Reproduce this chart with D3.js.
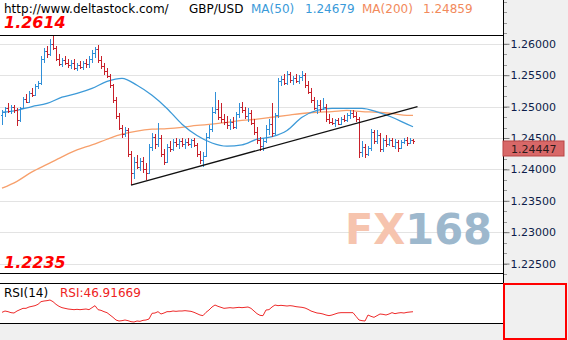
<!DOCTYPE html>
<html><head><meta charset="utf-8">
<script src="https://cdn.jsdelivr.net/npm/d3@7"></script>
<style>body{margin:0;background:#fff}svg{display:block}</style>
</head><body>
<svg id="c" width="568" height="340"></svg>
<script>
// ---------- data ----------
const siteText = "http://www.deltastock.com/";
const symbol = "GBP/USD";
const ma50Label = "MA(50)", ma50Last = "1.24679";
const ma200Label = "MA(200)", ma200Last = "1.24859";
const rangeHigh = 1.2614, rangeLow = 1.2235;
const lastPrice = 1.24447;
const rsiLabel = "RSI(14)", rsiText = "RSI:46.91669";
const axisTicks = [1.225, 1.23, 1.235, 1.24, 1.245, 1.25, 1.255, 1.26];
const watermark = ["FX", "168"];

const opens = [1.2486,1.2491,1.2497,1.2493,1.2499,1.2495,1.2478,1.2498,1.2512,1.2508,1.2522,1.2519,1.2533,1.2537,1.2575,1.2588,1.2583,1.2600,1.2594,1.2576,
1.2568,1.2574,1.2570,1.2566,1.2570,1.2562,1.2566,1.2563,1.2570,1.2568,1.2575,1.2586,1.2592,1.2574,1.2564,1.2556,1.2549,1.2534,1.2510,1.2485,
1.2466,1.2456,1.2463,1.2425,1.2395,1.2412,1.2404,1.2414,1.2400,1.2395,1.2435,1.2452,1.2440,1.2450,1.2425,1.2412,1.2436,1.2432,1.2444,1.2440,
1.2445,1.2440,1.2444,1.2441,1.2446,1.2439,1.2425,1.2415,1.2422,1.2452,1.2465,1.2492,1.2496,1.2484,1.2480,1.2475,1.2470,1.2476,1.2468,1.2488,
1.2500,1.2494,1.2485,1.2490,1.2474,1.2460,1.2446,1.2438,1.2445,1.2465,1.2472,1.2458,1.2486,1.2540,1.2544,1.2538,1.2552,1.2542,1.2545,1.2540,
1.2547,1.2550,1.2534,1.2524,1.2510,1.2498,1.2503,1.2496,1.2500,1.2480,1.2476,1.2474,1.2478,1.2473,1.2481,1.2479,1.2486,1.2490,1.2485,1.2480,
1.2428,1.2436,1.2424,1.2434,1.2460,1.2445,1.2455,1.2432,1.2446,1.2440,1.2447,1.2438,1.2444,1.2434,1.2443,1.2447,1.2442,1.2446];
const highs = [1.2494,1.2500,1.2505,1.2502,1.2503,1.2498,1.2500,1.2515,1.2520,1.2525,1.2530,1.2536,1.2540,1.2580,1.2593,1.2597,1.2608,1.2613,1.2597,1.2584,
1.2578,1.2580,1.2576,1.2574,1.2575,1.2570,1.2572,1.2573,1.2576,1.2580,1.2590,1.2595,1.2598,1.2580,1.2570,1.2562,1.2552,1.2536,1.2515,1.2490,
1.2470,1.2468,1.2466,1.2430,1.2420,1.2423,1.2418,1.2420,1.2410,1.2440,1.2458,1.2456,1.2474,1.2455,1.2432,1.2440,1.2445,1.2448,1.2450,1.2448,
1.2450,1.2448,1.2450,1.2449,1.2450,1.2442,1.2430,1.2428,1.2458,1.2470,1.2500,1.2523,1.2510,1.2505,1.2488,1.2485,1.2480,1.2483,1.2492,1.2505,
1.2507,1.2500,1.2498,1.2495,1.2480,1.2468,1.2452,1.2450,1.2470,1.2480,1.2505,1.2490,1.2545,1.2548,1.2552,1.2556,1.2555,1.2548,1.2552,1.2550,
1.2556,1.2553,1.2540,1.2530,1.2515,1.2510,1.2510,1.2513,1.2504,1.2488,1.2482,1.2480,1.2482,1.2484,1.2486,1.2490,1.2494,1.2494,1.2492,1.2483,
1.2445,1.2440,1.2438,1.2465,1.2462,1.2462,1.2458,1.2450,1.2455,1.2450,1.2450,1.2448,1.2447,1.2446,1.2450,1.2451,1.2450,1.2448];
const lows = [1.2470,1.2483,1.2490,1.2488,1.2490,1.2469,1.2476,1.2496,1.2505,1.2505,1.2515,1.2517,1.2528,1.2535,1.2570,1.2578,1.2580,1.2590,1.2572,1.2565,
1.2563,1.2566,1.2562,1.2560,1.2558,1.2556,1.2560,1.2558,1.2562,1.2562,1.2570,1.2578,1.2570,1.2560,1.2550,1.2545,1.2530,1.2505,1.2480,1.2462,
1.2450,1.2452,1.2420,1.2375,1.2385,1.2400,1.2398,1.2395,1.2383,1.2392,1.2430,1.2432,1.2436,1.2420,1.2407,1.2410,1.2428,1.2430,1.2436,1.2432,
1.2436,1.2433,1.2438,1.2434,1.2436,1.2420,1.2408,1.2404,1.2420,1.2448,1.2460,1.2488,1.2478,1.2474,1.2470,1.2465,1.2462,1.2465,1.2465,1.2482,
1.2490,1.2480,1.2475,1.2470,1.2455,1.2440,1.2430,1.2430,1.2442,1.2455,1.2452,1.2455,1.2482,1.2532,1.2535,1.2534,1.2538,1.2535,1.2538,1.2536,
1.2540,1.2530,1.2520,1.2505,1.2494,1.2488,1.2492,1.2494,1.2475,1.2472,1.2470,1.2468,1.2470,1.2471,1.2475,1.2476,1.2480,1.2482,1.2476,1.2418,
1.2420,1.2418,1.2422,1.2430,1.2440,1.2440,1.2428,1.2428,1.2436,1.2438,1.2435,1.2432,1.2428,1.2432,1.2440,1.2438,1.2440,1.2441];
const closes = [1.2491,1.2497,1.2493,1.2499,1.2495,1.2478,1.2498,1.2512,1.2508,1.2522,1.2519,1.2533,1.2537,1.2575,1.2588,1.2583,1.2600,1.2594,1.2576,1.2568,
1.2574,1.2570,1.2566,1.2570,1.2562,1.2566,1.2563,1.2570,1.2568,1.2575,1.2586,1.2592,1.2574,1.2564,1.2556,1.2549,1.2534,1.2510,1.2485,1.2466,
1.2456,1.2463,1.2425,1.2395,1.2412,1.2404,1.2414,1.2400,1.2395,1.2435,1.2452,1.2440,1.2450,1.2425,1.2412,1.2436,1.2432,1.2444,1.2440,1.2445,
1.2440,1.2444,1.2441,1.2446,1.2439,1.2425,1.2415,1.2422,1.2452,1.2465,1.2492,1.2496,1.2484,1.2480,1.2475,1.2470,1.2476,1.2468,1.2488,1.2500,
1.2494,1.2485,1.2490,1.2474,1.2460,1.2446,1.2438,1.2445,1.2465,1.2472,1.2458,1.2486,1.2540,1.2544,1.2538,1.2552,1.2542,1.2545,1.2540,1.2547,
1.2550,1.2534,1.2524,1.2510,1.2498,1.2503,1.2496,1.2500,1.2480,1.2476,1.2474,1.2478,1.2473,1.2481,1.2479,1.2486,1.2490,1.2485,1.2480,1.2428,
1.2436,1.2424,1.2434,1.2460,1.2445,1.2455,1.2432,1.2446,1.2440,1.2447,1.2438,1.2444,1.2434,1.2443,1.2447,1.2442,1.2446,1.24447];

const maIdx = [0,5,10,15,20,25,30,35,40,45,50,55,60,65,70,75,80,85,90,95,100,105,110,115,120,125,130,135,137];
const ma50 = [1.2491,1.2494,1.2500,1.2505,1.2515,1.2521,1.2529,1.2540,1.2545,1.2534,1.2518,1.2497,1.2472,1.2454,1.2442,1.2437,1.2439,1.2448,1.2452,1.2462,1.2483,1.2494,1.2497,1.2497,1.2497,1.24915,1.2483,1.2472,1.24679];
const ma200 = [1.2370,1.2381,1.2396,1.2408,1.2420,1.2431,1.2439,1.2448,1.2456,1.2461,1.2464,1.2465,1.2467,1.2470,1.2472,1.2475,1.2478,1.2480,1.2483,1.2486,1.2489,1.2491,1.2492,1.2494,1.2492,1.2491,1.2489,1.2486,1.24859];

const rsi = [46,48,47,45.5,45,48,50,52,52,54,55,56,58,62,63,63.5,64.5,62,58,55,
53,52,51,50.5,50,50.5,50,50.5,51,50,53,56,50,49,47,45.5,42,38.5,34.5,33,
33.5,34.5,33.5,32,31.5,33,32.5,34,34.5,36,44.5,45,47,43.5,45,47,47,48,47.5,48,
48,48.5,48,47.5,46,44,42,41,46,49.5,54,57,55,53.5,52,52.5,53,52.5,53,53.5,
53,53.5,54,52,48,44,41.5,41,49.5,50,54,57,56,56.5,56,55.5,56,55.5,54.5,54,
53.5,52.5,50.5,48,46.5,45,44.5,43.5,42,41,42,43.5,45,45.5,45.5,45.5,45.5,45.5,40,34.5,
33.5,33,42,40,38.5,41,43.5,43,42,43.5,45.5,44,45,45.5,45,46,46.5,46.91669];

const trendIdx = [43, 138.5];
const trendPrice = [1.2375, 1.2500];

// ---------- drawing ----------
const svg = d3.select("#c");
const W = 568, H = 340, plotR = 503;
const mainTop = 35, mainBot = 273, rsiTop = 283, rsiBot = 323;

const x = d3.scaleLinear().domain([0, closes.length - 1]).range([2, 413]);
const y = d3.scaleLinear().domain([rangeLow, rangeHigh]).range([mainBot, mainTop]);
const yr = d3.scaleLinear().domain([30, 90]).range([rsiBot, rsiTop]);

svg.append("rect").attr("width", W).attr("height", H).attr("fill", "#fff");
svg.append("rect").attr("x", plotR).attr("y", 0).attr("width", W - plotR).attr("height", H).attr("fill", "#f0f0f0");
svg.append("rect").attr("x", 0).attr("y", rsiBot).attr("width", plotR).attr("height", H - rsiBot).attr("fill", "#f0f0f0");

// gridlines
svg.append("g").selectAll("line").data(axisTicks).join("line")
  .attr("x1", 0).attr("x2", plotR)
  .attr("y1", d => Math.round(y(d)) + 0.5).attr("y2", d => Math.round(y(d)) + 0.5)
  .attr("stroke", "#e3e3e3").attr("stroke-width", 1);

// watermark
const wm = svg.append("text").attr("x", 345).attr("y", 244)
  .attr("font-family", "DejaVu Sans").attr("font-weight", "bold").attr("font-size", 42)
  .attr("textLength", 147).attr("lengthAdjust", "spacingAndGlyphs");
wm.append("tspan").attr("fill", "#f6c4ae").text(watermark[0]);
wm.append("tspan").attr("fill", "#9db8cd").text(watermark[1]);

// MA lines
const maLine = d3.line().x((d, i) => x(maIdx[i])).y(d => y(d)).curve(d3.curveMonotoneX);
svg.append("path").attr("d", maLine(ma200)).attr("fill", "none").attr("stroke", "#f7a06c").attr("stroke-width", 1.3);
svg.append("path").attr("d", maLine(ma50)).attr("fill", "none").attr("stroke", "#3d9ad8").attr("stroke-width", 1.3);

// OHLC bars
const bars = svg.append("g").attr("shape-rendering", "crispEdges");
closes.forEach((c, i) => {
  const o = opens[i], h = highs[i], l = lows[i];
  const col = c >= o ? "#2f8fd8" : "#c8202a";
  const xi = Math.round(x(i));
  const yh = Math.round(y(h)), yl = Math.round(y(l));
  bars.append("rect").attr("x", xi).attr("y", yh).attr("width", 1).attr("height", Math.max(1, yl - yh)).attr("fill", col);
  bars.append("rect").attr("x", xi - 1).attr("y", Math.round(y(o))).attr("width", 1).attr("height", 1).attr("fill", col);
  bars.append("rect").attr("x", xi + 1).attr("y", Math.round(y(c))).attr("width", 1).attr("height", 1).attr("fill", col);
});

// trend line
svg.append("line")
  .attr("x1", x(trendIdx[0])).attr("y1", y(trendPrice[0]))
  .attr("x2", x(trendIdx[1])).attr("y2", y(trendPrice[1]))
  .attr("stroke", "#111").attr("stroke-width", 1.4);

// frame lines
[mainTop, mainBot, rsiTop, rsiBot].forEach(v => {
  svg.append("line").attr("x1", 0).attr("x2", plotR).attr("y1", v + 0.5).attr("y2", v + 0.5)
    .attr("stroke", "#000").attr("stroke-width", 1);
});

// RSI line
const rsiLine = d3.line().x((d, i) => x(i)).y(d => yr(d));
svg.append("path").attr("d", rsiLine(rsi)).attr("fill", "none").attr("stroke", "#ee2a2a").attr("stroke-width", 1);

// right axis
const minor = d3.range(-6, 30).map(k => axisTicks[0] + k * 0.005 / 3).filter(v => y(v) > 0 && y(v) < 277);
svg.append("g").selectAll("line").data(minor).join("line")
  .attr("x1", plotR).attr("x2", plotR + 4)
  .attr("y1", d => Math.round(y(d)) + 0.5).attr("y2", d => Math.round(y(d)) + 0.5)
  .attr("stroke", "#999");
const axis = d3.axisRight(y).tickValues(axisTicks).tickSize(6).tickFormat(d3.format(".5f"));
const ag = svg.append("g").attr("transform", `translate(${plotR + 0.5},0)`).call(axis);
ag.select(".domain").remove();
ag.selectAll(".tick line").attr("stroke", "#777");
ag.selectAll(".tick text").attr("x", 7).attr("fill", "#0d1d4a")
  .attr("font-family", "DejaVu Sans").attr("font-size", 11);
svg.append("line").attr("x1", plotR + 0.5).attr("x2", plotR + 0.5).attr("y1", 0).attr("y2", H).attr("stroke", "#000");

// last price box
const ly = y(lastPrice);
svg.append("rect").attr("x", plotR).attr("y", Math.round(ly)).attr("width", 61).attr("height", 15)
  .attr("fill", "#d86868").attr("stroke", "#b84444").attr("stroke-width", 1);
svg.append("text").attr("x", plotR + 8).attr("y", Math.round(ly) + 11.5)
  .attr("font-family", "DejaVu Sans").attr("font-size", 11).attr("fill", "#2a1a1a").text(d3.format(".5f")(lastPrice));

// RSI red box
svg.append("rect").attr("x", plotR + 1).attr("y", rsiTop + 1).attr("width", 62).attr("height", 55)
  .attr("fill", "none").attr("stroke", "#ff0000").attr("stroke-width", 2);

// header texts
const hdr = svg.append("g").attr("font-family", "DejaVu Sans").attr("font-size", 12);
hdr.append("text").attr("x", 4).attr("y", 13).attr("fill", "#000").text(siteText);
hdr.append("text").attr("x", 189).attr("y", 13).attr("fill", "#000").text(symbol);
hdr.append("text").attr("x", 251).attr("y", 13).attr("fill", "#3a9ad9").text(ma50Label);
hdr.append("text").attr("x", 305).attr("y", 13).attr("fill", "#3a9ad9").text(ma50Last);
hdr.append("text").attr("x", 362).attr("y", 13).attr("fill", "#f28a5c").text(ma200Label);
hdr.append("text").attr("x", 423).attr("y", 13).attr("fill", "#f28a5c").text(ma200Last);

const big = svg.append("g").attr("font-family", "DejaVu Sans").attr("font-weight", "bold")
  .attr("font-style", "italic").attr("font-size", 16).attr("fill", "#ff0000");
big.append("text").attr("x", 4).attr("y", 28).text(d3.format(".4f")(rangeHigh));
big.append("text").attr("x", 4).attr("y", 268).text(d3.format(".4f")(rangeLow));

// RSI labels
svg.append("text").attr("x", 4).attr("y", 297).attr("font-family", "DejaVu Sans").attr("font-size", 12).attr("fill", "#000").text(rsiLabel);
svg.append("text").attr("x", 60).attr("y", 297).attr("font-family", "DejaVu Sans").attr("font-size", 12).attr("fill", "#ee2222").text(rsiText);
</script>
</body></html>
